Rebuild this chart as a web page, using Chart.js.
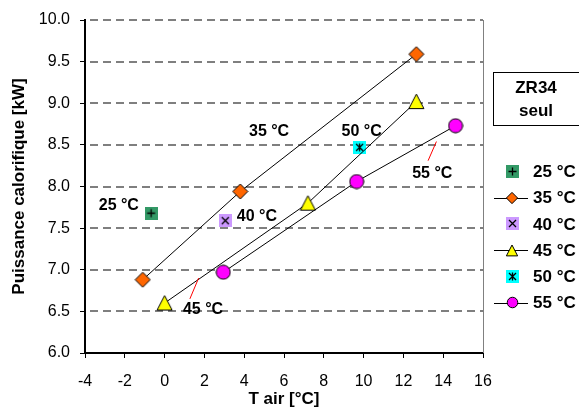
<!DOCTYPE html>
<html>
<head>
<meta charset="utf-8">
<script src="https://cdn.jsdelivr.net/npm/chart.js@4/dist/chart.umd.min.js"></script>
<style>
  html, body { margin: 0; padding: 0; background: #fff; }
  #graphe { width: 579px; height: 407px; }
</style>
</head>
<body>
<div id="graphe"><canvas id="graphePuissance" width="579" height="407"></canvas></div>
<script>
// Données (T air en °C, puissance en kW)
const series = ['25 °C', '35 °C', '40 °C', '45 °C', '50 °C', '55 °C'];
const tAir25 = [-0.68];
const puiss25 = [7.68];
const tAir35 = [-1.1, 3.8, 12.65];
const puiss35 = [6.88, 7.94, 9.59];
const tAir40 = [3.05];
const puiss40 = [7.59];
const tAir45 = [0.0, 7.2, 12.65];
const puiss45 = [6.6, 7.8, 9.02];
const tAir50 = [9.8];
const puiss50 = [8.47];
const tAir55 = [2.95, 9.65, 14.62];
const puiss55 = [6.97, 8.06, 8.73];

const ticksX = [-4, -2, 0, 2, 4, 6, 8, 10, 12, 14, 16];
const ticksY = [6.0, 6.5, 7.0, 7.5, 8.0, 8.5, 9.0, 9.5, 10.0];

// étiquettes posées dans le graphique (en unités des axes)
const etiquettes = [
    { texte: '35 °C', x: 5.25, y: 8.66 },
    { texte: '50 °C', x: 9.9, y: 8.66 },
    { texte: '55 °C', x: 13.45, y: 8.16 },
    { texte: '25 °C', x: -2.3, y: 7.77 },
    { texte: '40 °C', x: 4.64, y: 7.64 },
    { texte: '45 °C', x: 1.93, y: 6.52 }
];
// petits traits rouges vers les courbes
const traits = [
    { x1: 13.66, y1: 8.54, x2: 13.24, y2: 8.31 },
    { x1: 1.71, y1: 6.90, x2: 1.27, y2: 6.65 }
];

const POLICE = '"Liberation Sans", Arial, sans-serif';

function points(xs, ys) {
    return xs.map((x, i) => ({ x: x, y: ys[i] }));
}

// dessine un marqueur façon Excel dans un petit canvas
function marqueur(type, couleur, k) {
    const c = document.createElement('canvas');
    const ctx = c.getContext('2d');
    if (type === 'losange') {
        const d = 15 * k;
        c.width = c.height = Math.ceil(d + 2);
        const m = c.width / 2;
        ctx.beginPath();
        ctx.moveTo(m, m - d / 2); ctx.lineTo(m + d / 2, m);
        ctx.lineTo(m, m + d / 2); ctx.lineTo(m - d / 2, m);
        ctx.closePath();
    } else if (type === 'triangle') {
        const w = 15 * k, h = 14.5 * k;
        c.width = Math.ceil(w + 2); c.height = Math.ceil(h + 2);
        const m = c.width / 2;
        ctx.beginPath();
        ctx.moveTo(m, 1); ctx.lineTo(m + w / 2, 1 + h); ctx.lineTo(m - w / 2, 1 + h);
        ctx.closePath();
    } else if (type === 'rond') {
        const r = 7 * k;
        c.width = c.height = Math.ceil(2 * r + 2);
        ctx.beginPath();
        ctx.arc(c.width / 2, c.height / 2, r, 0, Math.PI * 2);
    } else {
        // carré sans bord avec un signe noir dedans
        c.width = c.height = 13;
        ctx.fillStyle = couleur;
        ctx.fillRect(0, 0, 13, 13);
        ctx.strokeStyle = '#000';
        ctx.lineWidth = 1.3;
        ctx.beginPath();
        if (type === 'plus' || type === 'etoile') {
            ctx.moveTo(6.5, 2.5); ctx.lineTo(6.5, 10.5);
        }
        if (type === 'plus') {
            ctx.moveTo(2.5, 6.5); ctx.lineTo(10.5, 6.5);
        }
        if (type === 'croix' || type === 'etoile') {
            ctx.moveTo(3, 3); ctx.lineTo(10, 10);
            ctx.moveTo(10, 3); ctx.lineTo(3, 10);
        }
        ctx.stroke();
        return c;
    }
    ctx.fillStyle = couleur;
    ctx.fill();
    ctx.strokeStyle = '#000';
    ctx.lineWidth = 1;
    ctx.stroke();
    return c;
}

const styles = [
    { type: 'plus', couleur: '#339966', ligne: false },
    { type: 'losange', couleur: '#FF6600', ligne: true },
    { type: 'croix', couleur: '#CC99FF', ligne: false },
    { type: 'triangle', couleur: '#FFFF00', ligne: true },
    { type: 'etoile', couleur: '#00FFFF', ligne: false },
    { type: 'rond', couleur: '#FF00FF', ligne: true }
];
const valeurs = [
    points(tAir25, puiss25), points(tAir35, puiss35), points(tAir40, puiss40),
    points(tAir45, puiss45), points(tAir50, puiss50), points(tAir55, puiss55)
];

const datasets = series.map((nom, i) => ({
    label: nom,
    data: valeurs[i],
    showLine: styles[i].ligne,
    borderColor: '#000',
    borderWidth: 1,
    pointStyle: marqueur(styles[i].type, styles[i].couleur, 1),
    pointRadius: 8
}));

// quadrillage en tirets (tracés un par un)
const quadrillage = {
    id: 'quadrillage',
    beforeDatasetsDraw(chart) {
        const ctx = chart.ctx;
        const a = chart.chartArea;
        const sy = chart.scales.y;
        ctx.save();
        ctx.fillStyle = '#7f7f7f';
        ticksY.forEach(v => {
            if (v === ticksY[0]) return;
            const y = Math.round(sy.getPixelForValue(v));
            for (let x = a.left + 5; x < a.right; x += 13) {
                ctx.fillRect(x, y - 1, Math.min(8, a.right - x), 2);
            }
        });
        ctx.restore();
    }
};

// cadre droit, étiquettes et légende dessinés à la main
const decor = {
    id: 'decor',
    afterDraw(chart) {
        const ctx = chart.ctx;
        const a = chart.chartArea;
        const sx = chart.scales.x, sy = chart.scales.y;
        ctx.save();

        ctx.strokeStyle = '#808080';
        ctx.lineWidth = 1;
        ctx.beginPath();
        ctx.moveTo(a.right + 0.5, a.top);
        ctx.lineTo(a.right + 0.5, a.bottom);
        ctx.stroke();

        ctx.strokeStyle = '#FF0000';
        traits.forEach(t => {
            ctx.beginPath();
            ctx.moveTo(sx.getPixelForValue(t.x1), sy.getPixelForValue(t.y1));
            ctx.lineTo(sx.getPixelForValue(t.x2), sy.getPixelForValue(t.y2));
            ctx.stroke();
        });

        ctx.fillStyle = '#000';
        ctx.font = 'bold 16px ' + POLICE;
        ctx.textAlign = 'center';
        ctx.textBaseline = 'middle';
        etiquettes.forEach(e => {
            ctx.fillText(e.texte, sx.getPixelForValue(e.x), sy.getPixelForValue(e.y));
        });

        // boîte "ZR34 seul"
        ctx.strokeStyle = '#000';
        ctx.strokeRect(493.5, 72.5, 90, 53);
        ctx.font = 'bold 17px ' + POLICE;
        ctx.fillText('ZR34', 536, 88);
        ctx.fillText('seul', 536, 111);

        // légende
        ctx.textAlign = 'left';
        series.forEach((nom, i) => {
            const y = 171.5 + i * 26.2;
            if (styles[i].ligne) {
                ctx.strokeStyle = '#000';
                ctx.beginPath();
                ctx.moveTo(494, Math.round(y) + 0.5);
                ctx.lineTo(528, Math.round(y) + 0.5);
                ctx.stroke();
            }
            const img = marqueur(styles[i].type, styles[i].couleur, 0.75);
            ctx.drawImage(img, Math.round(512 - img.width / 2), Math.round(y - img.height / 2));
            ctx.fillText(nom, 533, y + 1);
        });
        ctx.restore();
    }
};

new Chart(document.getElementById('graphePuissance'), {
    type: 'scatter',
    data: { datasets: datasets },
    options: {
        responsive: false,
        animation: false,
        layout: { padding: { top: 20, right: 96, left: 0, bottom: 0 } },
        plugins: {
            legend: { display: false },
            tooltip: { enabled: false }
        },
        scales: {
            x: {
                type: 'linear',
                min: -4,
                max: 16,
                afterFit: s => { s.height = 54; },
                afterBuildTicks: s => { s.ticks = ticksX.map(v => ({ value: v })); },
                ticks: {
                    color: '#000',
                    padding: 14,
                    font: { family: POLICE, size: 16 }
                },
                grid: { drawOnChartArea: false, drawTicks: true, tickLength: 5, tickColor: '#000' },
                border: { color: '#000', width: 2 },
                title: {
                    display: true,
                    text: 'T air [°C]',
                    color: '#000',
                    font: { family: POLICE, size: 17, weight: 'bold' },
                    padding: { top: 0, bottom: -3 }
                }
            },
            y: {
                type: 'linear',
                min: 6,
                max: 10,
                afterFit: s => { s.width = 85; },
                afterBuildTicks: s => { s.ticks = ticksY.map(v => ({ value: v })); },
                ticks: {
                    color: '#000',
                    padding: 10,
                    font: { family: POLICE, size: 16 },
                    callback: v => v.toFixed(1)
                },
                grid: { drawOnChartArea: false, drawTicks: true, tickLength: 5, tickColor: '#000' },
                border: { color: '#000', width: 2 },
                title: {
                    display: true,
                    text: 'Puissance calorifique [kW]',
                    color: '#000',
                    font: { family: POLICE, size: 17, weight: 'bold' },
                    padding: { top: 9, bottom: 0 }
                }
            }
        }
    },
    plugins: [quadrillage, decor]
});
</script>
</body>
</html>
